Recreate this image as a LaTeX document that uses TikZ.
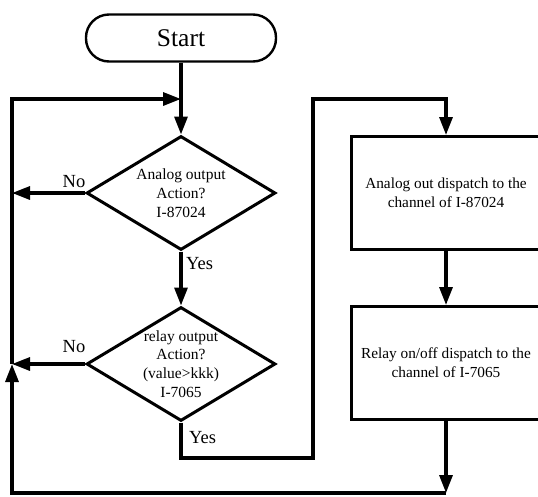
\documentclass[tikz,border=0pt]{standalone}
\usepackage{fontspec}
\setmainfont{Liberation Serif}
\usetikzlibrary{arrows.meta,shapes.geometric}
\begin{document}
\begin{tikzpicture}[x=1pt,y=-1pt,
  line/.style={line width=3.2pt},
  arr/.style={line, -{Triangle[length=18pt,width=13pt]}},
  startbox/.style={draw, line width=2.4pt, rectangle, rounded corners=23pt, minimum width=190pt, minimum height=47pt, inner sep=0pt, font=\fontsize{25.5}{30}\selectfont},
  dia/.style={draw, diamond, line width=3pt, minimum width=189pt, minimum height=114pt, inner sep=0pt},
  dtext/.style={inner sep=0pt, align=center, font=\fontsize{15.5}{18.8}\selectfont},
  pbox/.style={draw, rectangle, line width=3pt, minimum width=190pt, minimum height=113pt, inner sep=0pt, align=center, font=\fontsize{15.3}{18.8}\selectfont},
  lbl/.style={inner sep=0pt, font=\fontsize{18.5}{21}\selectfont}
]
\useasboundingbox (0,0) rectangle (538,496);
\clip (0,0) rectangle (538,496);
\node[startbox] (start) at (181,38) {Start};
\node[dia] (d1) at (181,193) {};
\node[dtext] (d1t) at (d1) {Analog output\\Action?\\I-87024};
\node[dia] (d2) at (181,364) {};
\node[dtext] (d2t) at (d2) {relay output\\Action?\\(value>kkk)\\I-7065};
\node[pbox] (b1) at (446,193) {Analog out dispatch to the\\channel of I-87024};
\node[pbox] (b2) at (446,363) {Relay on/off dispatch to the\\channel of I-7065};
\coordinate (j1) at (181,99);
\coordinate (jl) at (12,364);
\coordinate (ld1) at (12,193);
\coordinate (jb) at (446,493);
\coordinate (bl) at (12,493);
\coordinate (r1) at (313,458);
\coordinate (r2) at (313,99);
\draw[arr] (start) -- (d1);
\draw[arr] (d1.west) -- (ld1);
\draw[arr] (d1.south) -- (d2.north);
\draw[arr] (d2.west) -- (jl);
\draw[arr] (d2.south) |- (r1) -- (r2) -| (b1.north);
\draw[arr] (b1) -- (b2);
\draw[arr] (b2) -- (jb);
\draw[arr] (jb) -- (bl) -- (jl);
\draw[arr] (jl) |- (j1);
\node[lbl, anchor=base] (no1) at (74,187) {No};
\node[lbl, anchor=base] (no2) at (74,352) {No};
\node[lbl, anchor=base west] (yes1) at (186,269) {Yes};
\node[lbl, anchor=base west] (yes2) at (189,443) {Yes};
\end{tikzpicture}
\end{document}
